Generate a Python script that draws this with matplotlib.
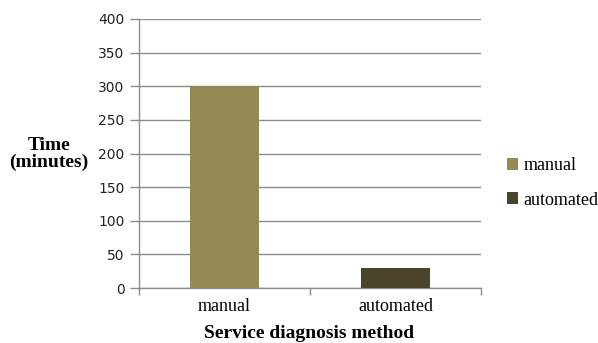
import matplotlib
matplotlib.use("Agg")
import matplotlib.pyplot as plt
from matplotlib.patches import Patch

categories = ["manual", "automated"]
times = [300, 30]
colors = ["#948a54", "#4a452a"]
y_ticks = [0, 50, 100, 150, 200, 250, 300, 350, 400]

W, H = 598, 343
fig = plt.figure(figsize=(W / 100, H / 100), dpi=100)
ax = fig.add_axes([139 / W, 1 - 288 / H, (481 - 139) / W, (288 - 19) / H])

x = list(range(len(categories)))
ax.bar(x, times, width=0.4, color=colors, zorder=3)

ax.set_xlim(-0.5, len(categories) - 0.5)
ax.set_ylim(0, 400)
ax.set_yticks(y_ticks)
ax.set_yticklabels([str(v) for v in y_ticks], fontsize=10, family="DejaVu Sans", color="#222222")
ax.yaxis.grid(True, color="#8c8c8c", linewidth=1.0, zorder=0)

ax.set_xticks(x)
ax.set_xticklabels(categories, fontsize=13, family="Liberation Serif")
ax.set_xticks([-0.5, 0.5, 1.5], minor=True)
ax.tick_params(axis="x", which="major", length=0, pad=7)
ax.tick_params(axis="x", which="minor", length=5, color="#8c8c8c", width=1)
ax.tick_params(axis="y", length=6.5, color="#8c8c8c", width=1, pad=4)

for side in ("top", "right"):
    ax.spines[side].set_visible(False)
for side in ("left", "bottom"):
    ax.spines[side].set_color("#8c8c8c")
    ax.spines[side].set_linewidth(1)

fig.text(49 / W, 1 - 154 / H, "Time\n(minutes)", ha="center", va="center",
         family="Liberation Serif", fontweight="bold", fontsize=14, linespacing=1.05)
fig.text(309 / W, 1 - 333 / H, "Service diagnosis method", ha="center", va="center",
         family="Liberation Serif", fontweight="bold", fontsize=14)

handles = [Patch(facecolor=c, edgecolor="none") for c in colors]
fig.legend(handles, categories, loc="center left", bbox_to_anchor=(491 / W, 1 - 183 / H),
           frameon=False, prop={"family": "Liberation Serif", "size": 13},
           handlelength=0.6, handleheight=0.6, handletextpad=0.3, labelspacing=0.95)

fig.savefig("out.png", dpi=100)
